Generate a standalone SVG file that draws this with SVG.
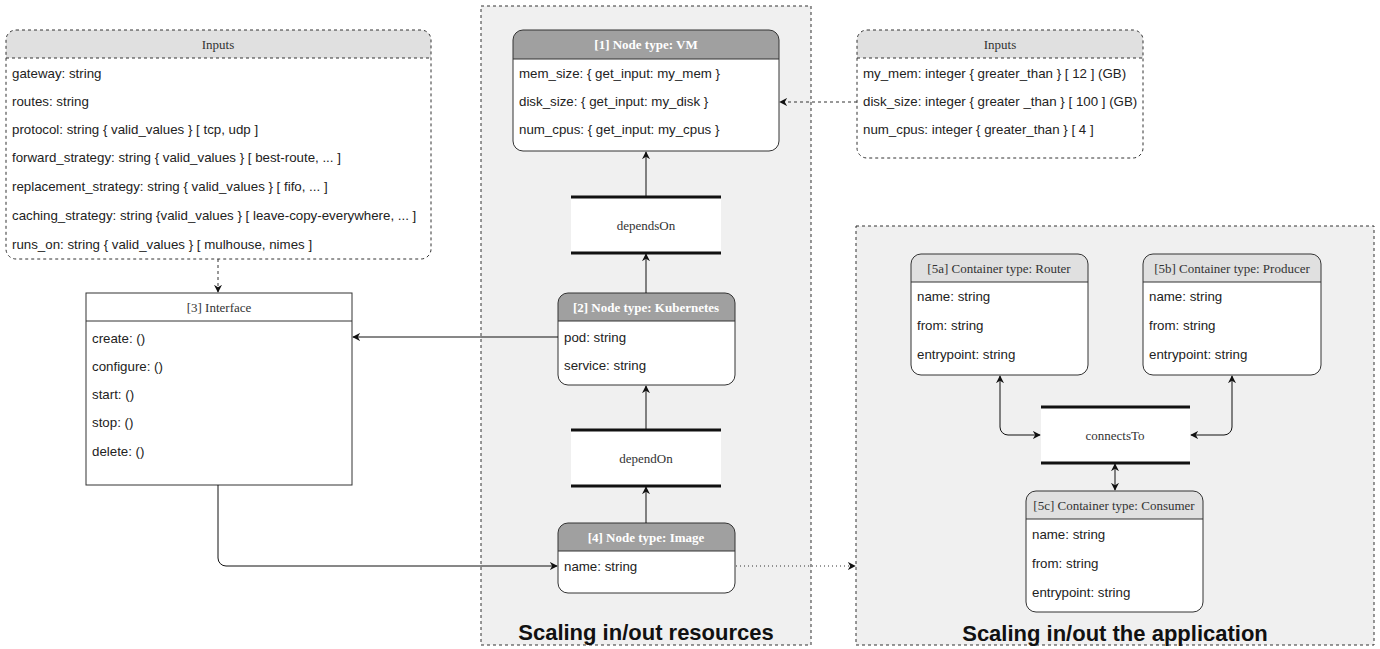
<svg xmlns="http://www.w3.org/2000/svg" width="1380" height="649" viewBox="0 0 1380 649">
<style>
.bg{fill:#ffffff}
.grp{fill:#f0f0f0;stroke:#333;stroke-width:1;stroke-dasharray:3 3}
.wb{fill:#ffffff}
.inp{fill:none;stroke:#333;stroke-width:1;stroke-dasharray:3 3}
.inph{fill:#e0e0e0}
.dsep{stroke:#333;stroke-width:1;stroke-dasharray:3 3}
.node{fill:none;stroke:#333;stroke-width:1}
.hdark{fill:#a0a0a0}
.hlight{fill:#e0e0e0}
.sep{stroke:#333;stroke-width:1}
.row{font-family:"Liberation Sans",Arial,sans-serif;font-size:13.3px;fill:#222}
.hd{font-family:"Liberation Serif","Times New Roman",serif;font-size:13px;fill:#333;text-anchor:middle}
.hdw{font-family:"Liberation Serif","Times New Roman",serif;font-size:13px;font-weight:bold;fill:#ffffff;text-anchor:middle}
.rel{fill:#ffffff}
.thick{stroke:#111;stroke-width:3}
.title{font-family:"Liberation Sans",Arial,sans-serif;font-size:22px;font-weight:bold;fill:#111;text-anchor:middle}
.c{fill:none;stroke:#111;stroke-width:1}
.cd{fill:none;stroke:#333;stroke-width:1;stroke-dasharray:3 3}
.cdot{fill:none;stroke:#333;stroke-width:1;stroke-dasharray:1 3}
</style>
<defs>
<marker id="ah" viewBox="0 0 10 10" refX="9" refY="5" markerWidth="8" markerHeight="8" orient="auto-start-reverse" markerUnits="userSpaceOnUse">
<path d="M0,0 L10,5 L0,10 L3,5 Z" fill="#111"/>
</marker>
</defs>
<rect class="bg" x="0" y="0" width="1380" height="649"/>

<g id="group-resources">
<rect class="grp" x="481" y="6" width="330" height="639"/>
<text class="title" x="646" y="640">Scaling in/out resources</text>
</g>
<g id="group-application">
<rect class="grp" x="856" y="226" width="518" height="419"/>
<text class="title" x="1115" y="641">Scaling in/out the application</text>
</g>

<g id="inputs-left">
<rect class="wb" x="6" y="30" width="425" height="229" rx="10" ry="10"/>
<path class="inph" d="M16,30 H421 a10,10 0 0 1 10,10 V58 H6 V40 a10,10 0 0 1 10,-10 Z"/>
<rect class="inp" x="6" y="30" width="425" height="229" rx="10" ry="10"/>
<line class="dsep" x1="6" y1="58" x2="431" y2="58"/>
<text class="hd" x="218" y="49">Inputs</text>
<text class="row" x="12" y="78">gateway: string</text>
<text class="row" x="12" y="106">routes: string</text>
<text class="row" x="12" y="134">protocol: string { valid_values } [ tcp, udp  ]</text>
<text class="row" x="12" y="162">forward_strategy: string { valid_values } [ best-route, ... ]</text>
<text class="row" x="12" y="191">replacement_strategy: string { valid_values } [ fifo, ... ]</text>
<text class="row" x="12" y="220">caching_strategy: string {valid_values } [ leave-copy-everywhere, ... ]</text>
<text class="row" x="12" y="249">runs_on: string { valid_values } [ mulhouse, nimes ]</text>
</g>

<g id="interface">
<rect class="wb" x="86" y="293" width="266" height="192"/>
<rect class="node" x="86" y="293" width="266" height="192"/>
<line class="sep" x1="86" y1="321" x2="352" y2="321"/>
<text class="hd" x="219" y="312">[3] Interface</text>
<text class="row" x="92" y="343">create: ()</text>
<text class="row" x="92" y="371">configure: ()</text>
<text class="row" x="92" y="399">start: ()</text>
<text class="row" x="92" y="427">stop: ()</text>
<text class="row" x="92" y="456">delete: ()</text>
</g>

<g id="vm">
<rect class="wb" x="513" y="30" width="266" height="121" rx="10" ry="10"/>
<path class="hdark" d="M523,30 H769 a10,10 0 0 1 10,10 V59 H513 V40 a10,10 0 0 1 10,-10 Z"/>
<rect class="node" x="513" y="30" width="266" height="121" rx="10" ry="10"/>
<line class="sep" x1="513" y1="59" x2="779" y2="59"/>
<text class="hdw" x="646" y="49">[1] Node type: VM</text>
<text class="row" x="519" y="78">mem_size: { get_input: my_mem }</text>
<text class="row" x="519" y="106">disk_size: { get_input: my_disk }</text>
<text class="row" x="519" y="134">num_cpus: { get_input: my_cpus }</text>
</g>

<g id="depends-on">
<rect class="rel" x="571" y="197" width="150" height="56"/>
<line class="thick" x1="571" y1="197" x2="721" y2="197"/>
<line class="thick" x1="571" y1="253" x2="721" y2="253"/>
<text class="hd" x="646" y="230">dependsOn</text>
</g>

<g id="kubernetes">
<rect class="wb" x="558" y="293" width="177" height="92" rx="10" ry="10"/>
<path class="hdark" d="M568,293 H725 a10,10 0 0 1 10,10 V321 H558 V303 a10,10 0 0 1 10,-10 Z"/>
<rect class="node" x="558" y="293" width="177" height="92" rx="10" ry="10"/>
<line class="sep" x1="558" y1="321" x2="735" y2="321"/>
<text class="hdw" x="646" y="312">[2] Node type: Kubernetes</text>
<text class="row" x="564" y="342">pod: string</text>
<text class="row" x="564" y="370">service: string</text>
</g>

<g id="depend-on">
<rect class="rel" x="571" y="430" width="150" height="56"/>
<line class="thick" x1="571" y1="430" x2="721" y2="430"/>
<line class="thick" x1="571" y1="486" x2="721" y2="486"/>
<text class="hd" x="646" y="463">dependOn</text>
</g>

<g id="image">
<rect class="wb" x="558" y="523" width="177" height="70" rx="10" ry="10"/>
<path class="hdark" d="M568,523 H725 a10,10 0 0 1 10,10 V551 H558 V533 a10,10 0 0 1 10,-10 Z"/>
<rect class="node" x="558" y="523" width="177" height="70" rx="10" ry="10"/>
<line class="sep" x1="558" y1="551" x2="735" y2="551"/>
<text class="hdw" x="646" y="542">[4] Node type: Image</text>
<text class="row" x="564" y="571">name: string</text>
</g>

<g id="inputs-right">
<rect class="wb" x="857" y="30" width="286" height="128" rx="10" ry="10"/>
<path class="inph" d="M867,30 H1133 a10,10 0 0 1 10,10 V58 H857 V40 a10,10 0 0 1 10,-10 Z"/>
<rect class="inp" x="857" y="30" width="286" height="128" rx="10" ry="10"/>
<line class="dsep" x1="857" y1="58" x2="1143" y2="58"/>
<text class="hd" x="1000" y="49">Inputs</text>
<text class="row" x="863" y="78">my_mem: integer { greater_than } [ 12 ] (GB)</text>
<text class="row" x="863" y="106">disk_size: integer { greater _than } [ 100 ] (GB)</text>
<text class="row" x="863" y="134">num_cpus: integer { greater_than } [ 4 ]</text>
</g>

<g id="router">
<rect class="wb" x="911" y="254" width="177" height="121" rx="10" ry="10"/>
<path class="hlight" d="M921,254 H1078 a10,10 0 0 1 10,10 V282 H911 V264 a10,10 0 0 1 10,-10 Z"/>
<rect class="node" x="911" y="254" width="177" height="121" rx="10" ry="10"/>
<line class="sep" x1="911" y1="282" x2="1088" y2="282"/>
<text class="hd" x="999" y="273">[5a] Container type: Router</text>
<text class="row" x="917" y="301">name: string</text>
<text class="row" x="917" y="330">from: string</text>
<text class="row" x="917" y="359">entrypoint: string</text>
</g>

<g id="producer">
<rect class="wb" x="1143" y="254" width="178" height="121" rx="10" ry="10"/>
<path class="hlight" d="M1153,254 H1311 a10,10 0 0 1 10,10 V282 H1143 V264 a10,10 0 0 1 10,-10 Z"/>
<rect class="node" x="1143" y="254" width="178" height="121" rx="10" ry="10"/>
<line class="sep" x1="1143" y1="282" x2="1321" y2="282"/>
<text class="hd" x="1232" y="273">[5b] Container type: Producer</text>
<text class="row" x="1149" y="301">name: string</text>
<text class="row" x="1149" y="330">from: string</text>
<text class="row" x="1149" y="359">entrypoint: string</text>
</g>

<g id="connects-to">
<rect class="rel" x="1041" y="407" width="149" height="56"/>
<line class="thick" x1="1041" y1="407" x2="1190" y2="407"/>
<line class="thick" x1="1041" y1="463" x2="1190" y2="463"/>
<text class="hd" x="1115" y="440">connectsTo</text>
</g>

<g id="consumer">
<rect class="wb" x="1026" y="491" width="177" height="121" rx="10" ry="10"/>
<path class="hlight" d="M1036,491 H1193 a10,10 0 0 1 10,10 V519 H1026 V501 a10,10 0 0 1 10,-10 Z"/>
<rect class="node" x="1026" y="491" width="177" height="121" rx="10" ry="10"/>
<line class="sep" x1="1026" y1="519" x2="1203" y2="519"/>
<text class="hd" x="1114" y="510">[5c] Container type: Consumer</text>
<text class="row" x="1032" y="539">name: string</text>
<text class="row" x="1032" y="568">from: string</text>
<text class="row" x="1032" y="597">entrypoint: string</text>
</g>

<g id="connectors">
<path class="cd" d="M218,259 V292" marker-end="url(#ah)"/>
<path class="cd" d="M857,102 H780" marker-end="url(#ah)"/>
<path class="c" d="M646,197 V152" marker-end="url(#ah)"/>
<path class="c" d="M646,293 V254" marker-end="url(#ah)"/>
<path class="c" d="M646,430 V386" marker-end="url(#ah)"/>
<path class="c" d="M646,523 V487" marker-end="url(#ah)"/>
<path class="c" d="M558,337 H353" marker-end="url(#ah)"/>
<path class="c" d="M218,485 V558 a8,8 0 0 0 8,8 H557" marker-end="url(#ah)"/>
<path class="cdot" d="M736,566 H855" marker-end="url(#ah)"/>
<path class="c" d="M1000,376 V427 a8,8 0 0 0 8,8 H1040" marker-start="url(#ah)" marker-end="url(#ah)"/>
<path class="c" d="M1232,376 V427 a8,8 0 0 1 -8,8 H1191" marker-start="url(#ah)" marker-end="url(#ah)"/>
<path class="c" d="M1115,464 V490" marker-start="url(#ah)" marker-end="url(#ah)"/>
</g>
</svg>
